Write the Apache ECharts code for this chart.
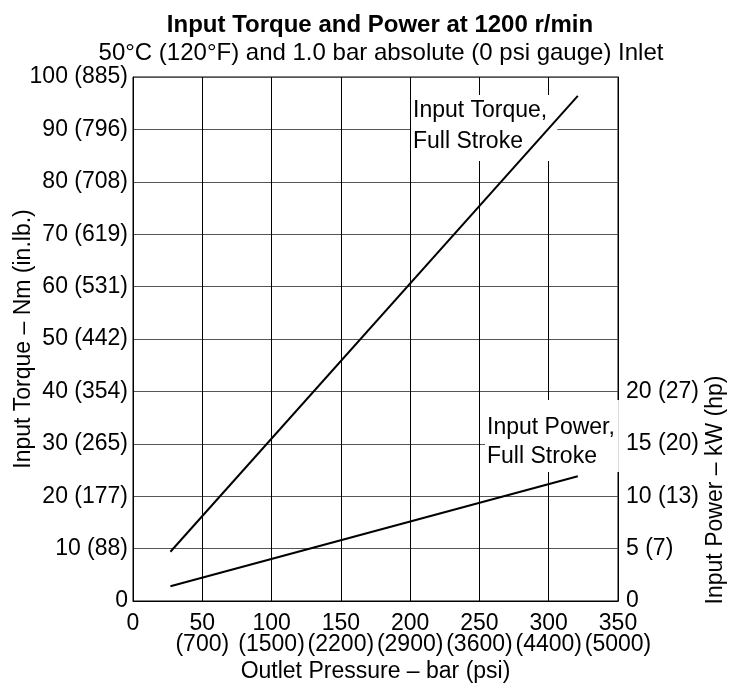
<!DOCTYPE html>
<html>
<head>
<meta charset="utf-8">
<script src="https://cdn.jsdelivr.net/npm/echarts@6/dist/echarts.min.js"></script>
<style>html,body{margin:0;padding:0;background:#fff;}#c{width:732px;height:685px;}</style>
</head>
<body>
<div id="c"></div>
<script>
// ---- data ----
const xTicks = [0, 50, 100, 150, 200, 250, 300, 350];
const psiLabels = ['', '(700)', '(1500)', '(2200)', '(2900)', '(3600)', '(4400)', '(5000)'];
const torqueTicks = [0, 10, 20, 30, 40, 50, 60, 70, 80, 90, 100];
const inlbLabels = ['', '(88)', '(177)', '(265)', '(354)', '(442)', '(531)', '(619)', '(708)', '(796)', '(885)'];
const powerTicks = [0, 5, 10, 15, 20];
const hpLabels = ['', '(7)', '(13)', '(20)', '(27)'];
const pressure = [27, 321];
const torque = [9.4, 96.4];
const power = [1.4, 11.9];

const FONT = 'Liberation Sans, Arial, Helvetica, sans-serif';
const chart = echarts.init(document.getElementById('c'), null, {renderer: 'canvas'});

function pair(ticks, sub, v) {
  const i = ticks.indexOf(v);
  if (i < 0) return '';
  return sub[i] ? v + ' ' + sub[i] : String(v);
}

chart.setOption({
  animation: false,
  backgroundColor: '#fff',
  title: [
    {text: 'Input Torque and Power at 1200 r/min', left: 375, top: 8, textAlign: 'center',
     textStyle: {fontFamily: FONT, fontSize: 24, fontWeight: 'bold', color: '#000'}},
    {text: '50°C (120°F) and 1.0 bar absolute (0 psi gauge) Inlet', left: 376, top: 36, textAlign: 'center',
     textStyle: {fontFamily: FONT, fontSize: 24, fontWeight: 'normal', color: '#000'}}
  ],
  grid: {left: 133, right: 114, top: 77, bottom: 84, containLabel: false, outerBoundsMode: 'none',
         show: true, borderColor: '#000', borderWidth: 1},
  xAxis: {
    type: 'value', min: 0, max: 350, interval: 50,
    name: 'Outlet Pressure – bar (psi)', nameLocation: 'middle', nameGap: 59, nameMoveOverlap: false,
    nameTextStyle: {fontFamily: FONT, fontSize: 23, color: '#000'},
    axisLine: {show: true, lineStyle: {color: '#000', width: 1}},
    axisTick: {show: false},
    splitLine: {show: true, lineStyle: {color: '#000', width: 1}},
    axisLabel: {
      fontFamily: FONT, fontSize: 23, color: '#000', margin: 12, lineHeight: 21,
      formatter: v => {
        const i = xTicks.indexOf(v);
        return psiLabels[i] ? v + '\n' + psiLabels[i] : String(v);
      }
    }
  },
  yAxis: [
    {
      type: 'value', min: 0, max: 100, interval: 10, position: 'left',
      name: 'Input Torque – Nm (in.lb.)', nameLocation: 'middle', nameGap: 98, nameMoveOverlap: false,
      nameTextStyle: {fontFamily: FONT, fontSize: 23, color: '#000'},
      axisLine: {show: true, lineStyle: {color: '#000', width: 1}},
      axisTick: {show: false},
      splitLine: {show: true, lineStyle: {color: '#555', width: 1}},
      axisLabel: {fontFamily: FONT, fontSize: 23, color: '#000', margin: 5,
        formatter: v => pair(torqueTicks, inlbLabels, v)}
    },
    {
      type: 'value', min: 0, max: 50, interval: 5, position: 'right',
      axisLine: {show: true, lineStyle: {color: '#000', width: 1}},
      axisTick: {show: false},
      splitLine: {show: false},
      axisLabel: {fontFamily: FONT, fontSize: 23, color: '#000', margin: 8,
        formatter: v => pair(powerTicks, hpLabels, v)}
    }
  ],
  graphic: [
    {type: 'text', x: 716, y: 490, rotation: Math.PI / 2, z: 10,
     style: {text: 'Input Power – kW (hp)', font: '23px ' + FONT, fill: '#000', align: 'center', verticalAlign: 'middle'}},
    {type: 'text', x: 411, y: 95, z: 1,
     style: {text: 'Input Torque,\nFull Stroke', font: '23px ' + FONT, fill: '#000', lineHeight: 31,
             backgroundColor: '#fff', padding: [0, 10, 4, 2]}},
    {type: 'text', x: 485, y: 400, z: 1,
     style: {text: 'Input Power,\nFull Stroke', font: '23px ' + FONT, fill: '#000', lineHeight: 29,
             backgroundColor: '#fff', padding: [13, 4, 1, 2]}}
  ],
  series: [
    {type: 'line', name: 'Input Torque, Full Stroke', yAxisIndex: 0, z: 5, symbol: 'none',
     lineStyle: {color: '#000', width: 2},
     data: pressure.map((p, i) => [p, torque[i]])},
    {type: 'line', name: 'Input Power, Full Stroke', yAxisIndex: 1, z: 5, symbol: 'none',
     lineStyle: {color: '#000', width: 2},
     data: pressure.map((p, i) => [p, power[i]])}
  ]
});
</script>
</body>
</html>
